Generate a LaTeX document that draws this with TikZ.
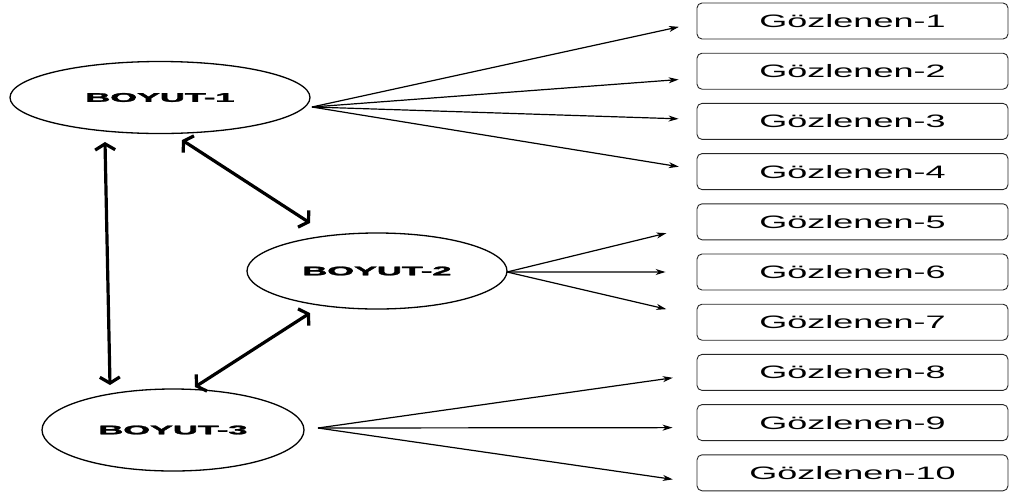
\documentclass[tikz,border=0pt]{standalone}
\usepackage{fontspec}
\usepackage{graphicx}
\setmainfont{Liberation Sans}
\newfontfamily\heavyfont[FakeBold=2]{Liberation Sans Bold}
\usetikzlibrary{shapes.geometric,arrows.meta}
\newcommand{\dimtxt}[1]{{\heavyfont\fontsize{12.5}{14}\selectfont\scalebox{2.75}[1]{#1}}}
\newcommand{\obstxt}[1]{{\fontsize{18}{20}\selectfont\scalebox{2.0}[1]{#1}}}
\begin{document}
\begin{tikzpicture}[x=1pt,y=-1pt,
  dimnode/.style={ellipse, draw, line width=1.3pt, inner sep=0pt},
  obsbox/.style={draw=black!85, rounded corners=5pt, line width=0.9pt, minimum width=311pt, minimum height=36pt, inner sep=0pt},
  indarrow/.style={line width=1.2pt, -{Stealth[length=10pt,width=6pt,inset=3pt]}},
  corarrow/.style={line width=3.2pt, {Straight Barb[length=6pt,width=20pt]}-{Straight Barb[length=6pt,width=20pt]}}
]
\useasboundingbox (0,0) rectangle (1014,496);

% dimension ellipses
\node[dimnode, minimum width=300pt, minimum height=72pt] (E1) at (160,97.5) {\dimtxt{BOYUT-1}};
\node[dimnode, minimum width=260pt, minimum height=76pt] (E2) at (377,271) {\dimtxt{BOYUT-2}};
\node[dimnode, minimum width=262pt, minimum height=82pt] (E3) at (173,430) {\dimtxt{BOYUT-3}};

% observed boxes
\foreach \i in {1,...,10} {
  \node[obsbox] (b\i) at (852.5, {21 + 50.2*(\i-1)}) {\obstxt{Gözlenen-\i}};
}

% start points of indicator arrows
\coordinate (s1) at (312,107);
\coordinate (s2) at (507,272);
\coordinate (s3) at (318,428);

\draw[indarrow, shorten >=18pt] (s1) -- ([yshift=-2pt]b1.west);
\draw[indarrow, shorten >=18pt] (s1) -- ([yshift=-7pt]b2.west);
\draw[indarrow, shorten >=18pt] (s1) -- ([yshift=2pt]b3.west);
\draw[indarrow, shorten >=18pt] (s1) -- ([yshift=2pt]b4.west);

\draw[indarrow, shorten >=31pt] (s2) -- ([yshift=-4pt]b5.west);
\draw[indarrow, shorten >=31pt] (s2) -- (b6.west);
\draw[indarrow, shorten >=31pt] (s2) -- ([yshift=6pt]b7.west);

\draw[indarrow, shorten >=24pt] (s3) -- ([yshift=-2pt]b8.west);
\draw[indarrow, shorten >=24pt] (s3) -- ([yshift=-5pt]b9.west);
\draw[indarrow, shorten >=24pt] (s3) -- ([yshift=-10pt]b10.west);

% correlation arrows
\coordinate (c13a) at (105,142);
\coordinate (c13b) at (110,385);
\coordinate (c12a) at (182,140);
\coordinate (c12b) at (310,223);
\coordinate (c23a) at (310,313);
\coordinate (c23b) at (195,387);
\draw[corarrow] (c13a) -- (c13b);
\draw[corarrow] (c12a) -- (c12b);
\draw[corarrow] (c23a) -- (c23b);
\end{tikzpicture}
\end{document}
